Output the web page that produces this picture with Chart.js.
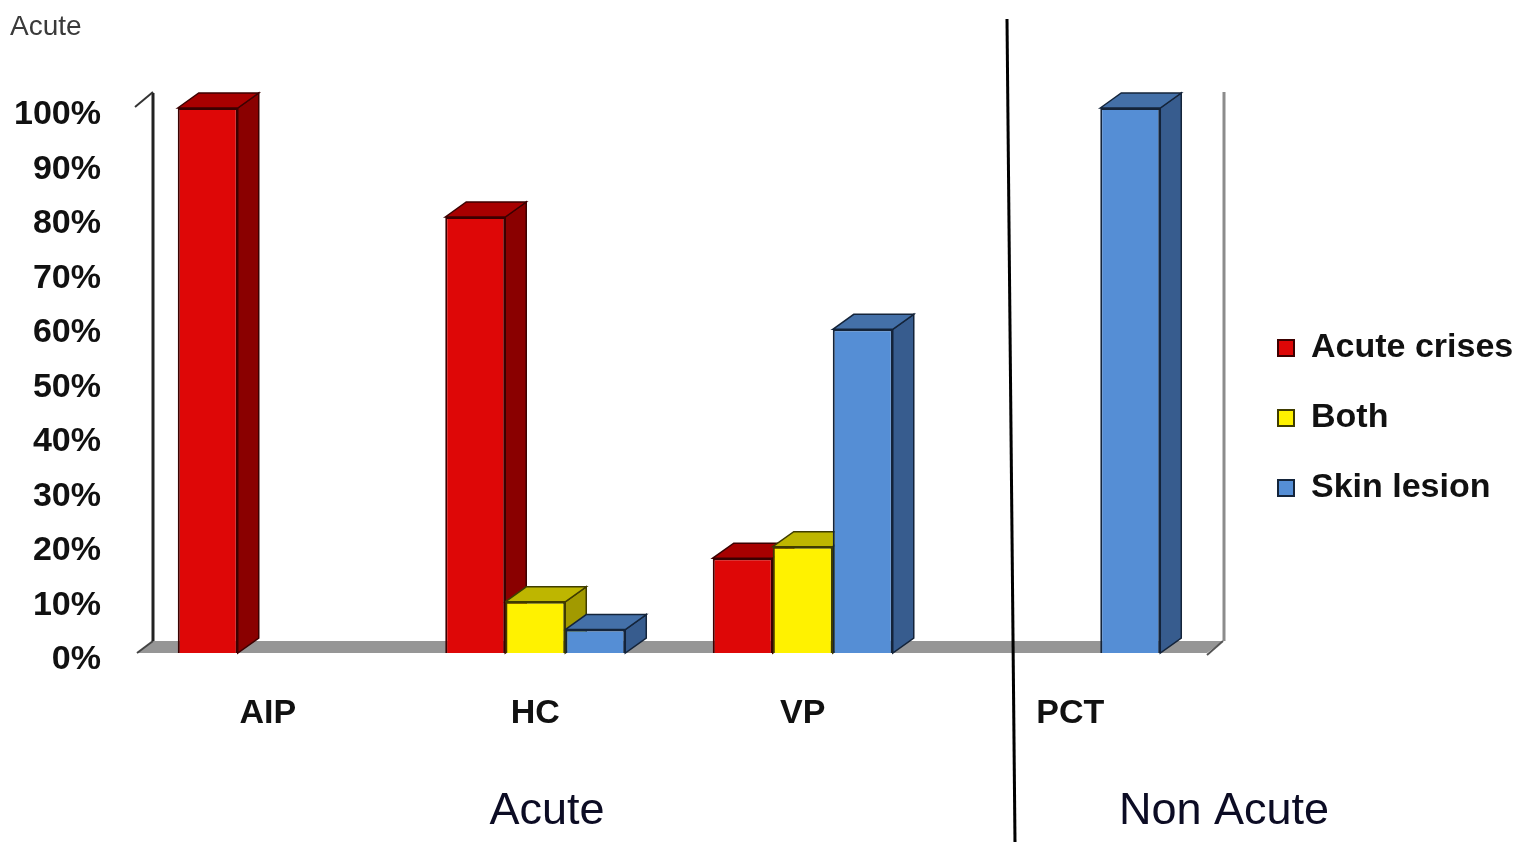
<!DOCTYPE html>
<html>
<head>
<meta charset="utf-8">
<title>Porphyria presentation</title>
<script src="https://cdn.jsdelivr.net/npm/chart.js@4.4.1/dist/chart.umd.min.js"></script>
<style>
  html, body { margin: 0; padding: 0; background: #fff; overflow: hidden; }
  #wrap { width: 1521px; height: 842px; position: relative; background: #fff; }
  canvas { display: block; }
</style>
</head>
<body>
<div id="wrap"><canvas id="chart" width="1521" height="842"></canvas></div>
<script>
// ---- data ----
const categories = ['AIP', 'HC', 'VP', 'PCT'];
const seriesNames = ['Acute crises', 'Both', 'Skin lesion'];
const acuteCrises = [100, 80, 17.4, null];
const both = [null, 9.4, 19.5, null];
const skinLesion = [null, 4.3, 59.4, 100];
const tickValues = [0, 10, 20, 30, 40, 50, 60, 70, 80, 90, 100];
const groupLabels = ['Acute', 'Non Acute'];
const cornerLabel = 'Acute';

// ---- styles ----
const FONT = "'Liberation Sans', Arial, Helvetica, sans-serif";
const frontColors = ['#DE0707', '#FFF200', '#558ED5'];
const topColors = ['#A80000', '#BEB600', '#4470A8'];
const sideColors = ['#8A0000', '#A29A00', '#375C8E'];
const edgeColors = ['#3C0000', '#3F3C00', '#14243A'];
const DX = 21, DY = 15;        // bar depth offset
const FLOOR_DX = 16, FLOOR_DY = 12;

function poly(ctx, pts, fill, stroke, lw) {
  ctx.beginPath();
  ctx.moveTo(pts[0][0], pts[0][1]);
  for (let k = 1; k < pts.length; k++) ctx.lineTo(pts[k][0], pts[k][1]);
  ctx.closePath();
  if (fill) { ctx.fillStyle = fill; ctx.fill(); }
  if (stroke) { ctx.strokeStyle = stroke; ctx.lineWidth = lw || 1.5; ctx.lineJoin = 'miter'; ctx.stroke(); }
}

function line(ctx, x1, y1, x2, y2, color, lw) {
  ctx.beginPath();
  ctx.moveTo(x1, y1);
  ctx.lineTo(x2, y2);
  ctx.strokeStyle = color;
  ctx.lineWidth = lw;
  ctx.stroke();
}

// Floor, walls and the top/side faces of each column
const depthPlugin = {
  id: 'depth',
  beforeDatasetsDraw(chart) {
    const { ctx, chartArea: ca } = chart;
    ctx.save();
    const fl = ca.left + 3, fr = ca.right + 3, fb = ca.bottom;
    // floor
    poly(ctx, [[fl, fb], [fr, fb], [fr + FLOOR_DX, fb - FLOOR_DY], [fl + FLOOR_DX, fb - FLOOR_DY]], '#969696', null);
    line(ctx, fl, fb, fl + FLOOR_DX, fb - FLOOR_DY, '#444', 2);
    line(ctx, fr, fb + 2, fr + FLOOR_DX, fb - FLOOR_DY, '#555', 2);
    // left wall edge
    const wx = fl + FLOOR_DX;
    line(ctx, wx, ca.top - DY, wx, fb - FLOOR_DY, '#222', 3);
    line(ctx, wx - 18, ca.top - 1, wx, ca.top - DY - 1, '#333', 2);
    // right wall edge
    line(ctx, fr + FLOOR_DX + 1, ca.top - DY - 1, fr + FLOOR_DX + 1, fb - FLOOR_DY, '#8C8C8C', 3);

    // side and top faces, column by column
    categories.forEach((_, i) => {
      chart.data.datasets.forEach((ds, d) => {
        if (ds.data[i] == null) return;
        const el = chart.getDatasetMeta(d).data[i];
        const { x, y, base, width } = el.getProps(['x', 'y', 'base', 'width'], true);
        const l = x - width / 2, r = x + width / 2;
        poly(ctx, [[r, y], [r + DX, y - DY], [r + DX, base - DY], [r, base]], sideColors[d], edgeColors[d], 1.5);
        poly(ctx, [[l, y], [l + DX, y - DY], [r + DX, y - DY], [r, y]], topColors[d], edgeColors[d], 1.5);
      });
    });
    ctx.restore();
  },
  afterDraw(chart) {
    const { ctx } = chart;
    ctx.save();
    // divider between the acute and non acute forms
    line(ctx, 1007, 19, 1015, 842, '#000', 3);
    // group captions
    ctx.fillStyle = '#0C0C24';
    ctx.font = `45px ${FONT}`;
    ctx.textAlign = 'center';
    ctx.textBaseline = 'alphabetic';
    ctx.fillText(groupLabels[0], 547, 824);
    ctx.fillText(groupLabels[1], 1224, 824);
    // corner caption
    ctx.fillStyle = '#3A3A3A';
    ctx.font = `28px ${FONT}`;
    ctx.textAlign = 'left';
    ctx.fillText(cornerLabel, 10, 35);
    ctx.restore();
  }
};

const seriesValues = [acuteCrises, both, skinLesion];

new Chart(document.getElementById('chart'), {
  type: 'bar',
  data: {
    labels: categories,
    datasets: seriesNames.map((name, d) => ({
      label: name,
      data: seriesValues[d],
      backgroundColor: frontColors[d],
      borderColor: edgeColors[d],
      borderWidth: 2,
      borderSkipped: 'bottom'
    }))
  },
  options: {
    responsive: false,
    animation: false,
    devicePixelRatio: 1,
    layout: { padding: { left: 0, top: 108, right: 0, bottom: 114 } },
    datasets: { bar: { barPercentage: 1, categoryPercentage: 0.673 } },
    plugins: {
      tooltip: { enabled: false },
      title: { display: false },
      legend: {
        position: 'right',
        align: 'center',
        maxWidth: 279,
        labels: {
          boxWidth: 16,
          boxHeight: 16,
          padding: 36,
          color: '#111',
          font: { family: FONT, size: 34, weight: 'bold' }
        }
      }
    },
    scales: {
      x: {
        grid: { display: false, drawTicks: false },
        border: { display: false },
        ticks: { color: '#111', padding: 40, font: { family: FONT, size: 34, weight: 'bold' } },
        afterFit(s) { s.height = 75; }
      },
      y: {
        min: 0,
        max: 100,
        grid: { display: false, drawTicks: false },
        border: { display: false },
        afterBuildTicks(s) { s.ticks = tickValues.map(v => ({ value: v })); },
        ticks: {
          color: '#111',
          padding: 33,
          labelOffset: 7,
          font: { family: FONT, size: 34, weight: 'bold' },
          callback: v => v + '%'
        },
        afterFit(s) { s.width = 134; }
      },
      gap: {
        type: 'linear',
        position: 'right',
        display: true,
        grid: { display: false, drawTicks: false },
        border: { display: false },
        ticks: { display: false },
        afterFit(s) { s.width = 38; }
      }
    }
  },
  plugins: [depthPlugin]
});
</script>
</body>
</html>
